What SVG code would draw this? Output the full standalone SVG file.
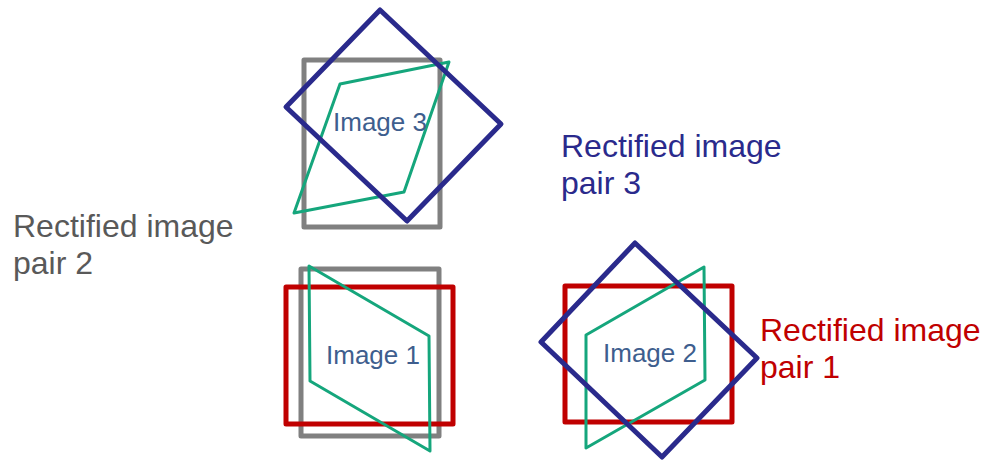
<svg xmlns="http://www.w3.org/2000/svg" width="982" height="460" viewBox="0 0 982 460">
<style>
.frame{fill:none;stroke-linejoin:round}
.gray{stroke:#808080;stroke-width:5}
.red{stroke:#C00000;stroke-width:5}
.blue{stroke:#2A2A8C;stroke-width:5}
.green{stroke:#15A67C;stroke-width:3}
.img{font-family:"Liberation Sans",Arial,sans-serif;font-size:26px;fill:#3E5E8E;text-anchor:middle}
.lbl{font-family:"Liberation Sans",Arial,sans-serif;font-size:32px}
</style>
<rect width="982" height="460" fill="#fff"/>
<g id="image3">
<rect class="frame gray" x="304" y="60" width="136" height="167"/>
<polygon class="frame green" points="340,84 449,62 404,192 294,213"/>
<polygon class="frame blue" points="380,10 501,124 407,221 286,107"/>
<text class="img" x="380" y="131">Image 3</text>
</g>
<g id="image1">
<rect class="frame gray" x="301" y="269" width="138" height="167"/>
<rect class="frame red" x="286" y="287" width="167" height="137"/>
<polygon class="frame green" points="309,266 429,336 430,451 310,381"/>
<text class="img" x="373" y="364">Image 1</text>
</g>
<g id="image2">
<rect class="frame red" x="565" y="286" width="167" height="136"/>
<polygon class="frame green" points="586,335 704,267 705,380 586,448"/>
<polygon class="frame blue" points="635,243 757,358 662,457 541,342"/>
<text class="img" x="650" y="362">Image 2</text>
</g>
<g id="connectors"></g>
<g id="label-pair3">
<text class="lbl" fill="#2A2A8C" x="561" y="157">Rectified image</text>
<text class="lbl" fill="#2A2A8C" x="561" y="194">pair 3</text>
</g>
<g id="label-pair2">
<text class="lbl" fill="#595959" x="13" y="237">Rectified image</text>
<text class="lbl" fill="#595959" x="13" y="274">pair 2</text>
</g>
<g id="label-pair1">
<text class="lbl" fill="#C00000" x="760" y="341">Rectified image</text>
<text class="lbl" fill="#C00000" x="760" y="378">pair 1</text>
</g>
</svg>
